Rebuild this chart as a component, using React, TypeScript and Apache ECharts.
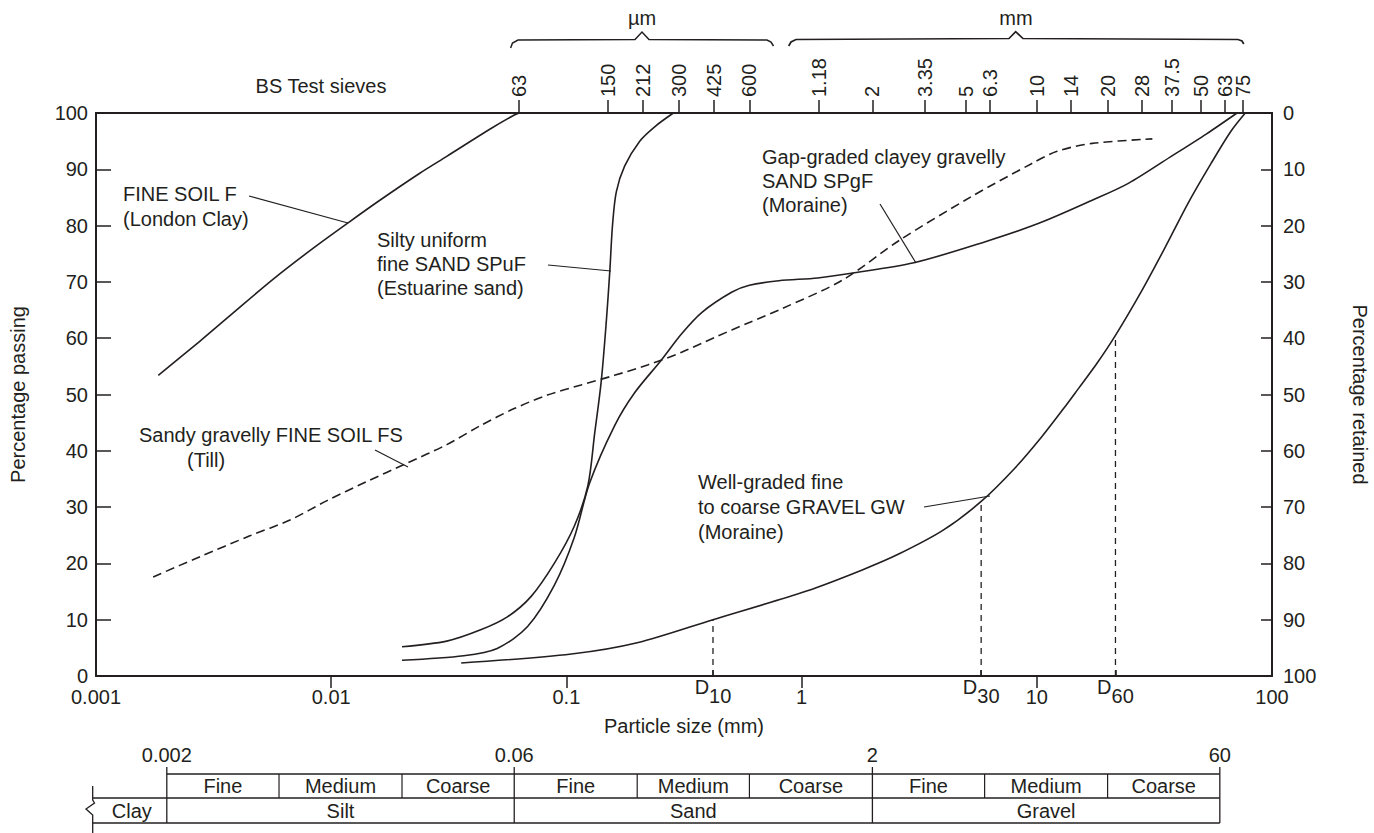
import React, { useEffect, useRef } from 'react';
import * as echarts from 'echarts';

// ---------------- data ----------------
const xTickLabels = ['0.001', '0.01', '0.1', '1', '10', '100'];
const xDecadeTicks = [0.01, 0.1, 1, 10];
const sieveSizes = [0.063, 0.15, 0.212, 0.3, 0.425, 0.6, 1.18, 2, 3.35, 5, 6.3, 10, 14, 20, 28, 37.5, 50, 63, 75];
const sieveLabels = ['63', '150', '212', '300', '425', '600', '1.18', '2', '3.35', '5', '6.3', '10', '14', '20', '28', '37.5', '50', '63', '75'];
const dSizes = [0.42, 5.8, 21.6];
const dNames = ['10', '30', '60'];
const dPassing = [10, 31, 60.5];

const fineSoilF = [[0.00184, 53.4], [0.00277, 59.5], [0.00383, 64.5], [0.00567, 70.5], [0.00839, 76], [0.0118, 80.5], [0.0161, 84.5], [0.0238, 89.3], [0.031, 92.3], [0.0476, 97.2], [0.0598, 99.6], [0.063, 100]];
const siltyUniformSand = [[0.02, 5.2], [0.031, 6.2], [0.0432, 8.2], [0.0561, 10.5], [0.0707, 14.1], [0.0888, 20], [0.108, 26.6], [0.1234, 33.8], [0.1318, 43], [0.1406, 52.3], [0.1477, 62.8], [0.153, 72], [0.157, 80], [0.163, 86], [0.177, 90.6], [0.205, 95], [0.238, 97.6], [0.285, 100]];
const gapGradedSand = [[0.02, 2.8], [0.0366, 3.6], [0.0508, 4.9], [0.0684, 8.8], [0.0888, 16.1], [0.108, 24.6], [0.1253, 34.2], [0.16, 44.4], [0.195, 50.3], [0.252, 56], [0.309, 60.8], [0.377, 64.6], [0.506, 68.2], [0.6, 69.4], [0.8, 70.2], [1.17, 70.7], [1.6, 71.5], [3.0, 73.4], [6.0, 77.1], [10.2, 80.4], [17.2, 84.5], [24.5, 87.5], [37, 92.2], [52.7, 96.3], [71, 100]];
const sandyGravellyFineSoil = [[0.00175, 17.6], [0.00277, 21.2], [0.00451, 24.9], [0.00668, 27.7], [0.00955, 31.1], [0.0141, 34.5], [0.021, 37.8], [0.031, 41.1], [0.0432, 44.5], [0.06, 47.5], [0.083, 49.9], [0.1155, 51.7], [0.16, 53.4], [0.223, 55.3], [0.309, 57.5], [0.43, 60.2], [0.6, 62.8], [0.83, 65.3], [1.49, 70.3], [2.61, 77.4], [5.25, 85.1], [9.5, 91], [12.2, 93.2], [17.2, 94.6], [31, 95.4]];
const wellGradedGravel = [[0.0357, 2.3], [0.105, 3.9], [0.2, 5.9], [0.42, 10], [1.05, 15.1], [1.8, 18.8], [2.6, 21.7], [4, 25.9], [5.8, 31], [8.1, 37], [10.5, 42.5], [13, 47.5], [15, 51], [18, 55.5], [21.6, 60.5], [28, 68.5], [35, 76], [44, 84], [55, 91], [67, 96.8], [77, 100]];

const classBounds = [0.002, 0.06, 2, 60];
const classBoundLabels = ['0.002', '0.06', '2', '60'];
const subBounds = [0.002, 0.006, 0.02, 0.06, 0.2, 0.6, 2, 6, 20, 60];
const subLabels = ['Fine', 'Medium', 'Coarse', 'Fine', 'Medium', 'Coarse', 'Fine', 'Medium', 'Coarse'];
const mainLabels = ['Silt', 'Sand', 'Gravel'];

// ---------------- style ----------------
const C = '#231f20';
const FF = '"Liberation Sans", Arial, Helvetica, sans-serif';
const FS = 20;

const annotations = [
  { lines: ['FINE SOIL F', '(London Clay)'], x: 123, y: 194, dy: 25, leader: [[249, 196], [348, 223]] },
  { lines: ['Silty uniform', 'fine SAND SPuF', '(Estuarine sand)'], x: 377, y: 240, dy: 24, leader: [[548, 265], [611, 271]] },
  { lines: ['Gap-graded clayey gravelly', 'SAND SPgF', '(Moraine)'], x: 762, y: 157, dy: 24, leader: [[880, 204], [916, 263]] },
  { lines: ['Sandy gravelly FINE SOIL FS'], x: 139, y: 435, dy: 25, leader: [[375, 450], [408, 467]] },
  { lines: ['(Till)'], x: 187, y: 460, dy: 25, leader: null },
  { lines: ['Well-graded fine', 'to coarse GRAVEL GW', '(Moraine)'], x: 698, y: 482, dy: 25, leader: [[924, 507], [990, 496]] },
];

function txt(text: string, x: number, y: number, align = 'left', size = FS) {
  return {
    type: 'text', x, y, silent: true,
    style: { text, fill: C, fontSize: size, fontFamily: FF, align, verticalAlign: 'middle' },
  };
}
function seg(x1: number, y1: number, x2: number, y2: number, w = 1.2) {
  return { type: 'line', silent: true, shape: { x1, y1, x2, y2 }, style: { stroke: C, lineWidth: w } };
}

function curve(name: string, data: number[][], dashed = false) {
  return {
    name, type: 'line', xAxisIndex: 0, yAxisIndex: 0, data,
    showSymbol: false, symbol: 'none', smooth: 0.3, silent: true,
    lineStyle: { color: C, width: 1.6, type: dashed ? [9, 5] : 'solid' },
  };
}

function sieveLabel(v: number) {
  const i = sieveSizes.findIndex((s) => Math.abs(Math.log10(s) - Math.log10(v)) < 1e-6);
  return i >= 0 ? sieveLabels[i] : '';
}
function dLabel(v: number) {
  const i = dSizes.findIndex((s) => Math.abs(Math.log10(s) - Math.log10(v)) < 1e-6);
  return i >= 0 ? `{D|D}{s|${dNames[i]}}` : '';
}
function decadeLabel(v: number) {
  const i = Math.round(Math.log10(v)) + 3;
  return xTickLabels[i] ?? '';
}

export default function App() {
  const ref = useRef<HTMLDivElement>(null);
  useEffect(() => {
    const chart = echarts.init(ref.current!, null, { renderer: 'svg' });
    const axisLine = { show: true, lineStyle: { color: C, width: 2 } };
    const tickStyle = { color: C, width: 1.5 };
    // split the sieve ticks over two identical top axes so that adjacent labels are never auto-hidden
    const sieveA = sieveSizes.filter((_, i) => i % 2 === 0);
    const sieveB = sieveSizes.filter((_, i) => i % 2 === 1);
    const topAxis = (vals: number[], rot: number) => ({
      type: 'log', logBase: 10, min: 0.001, max: 100, position: 'top',
      axisLine, splitLine: { show: false }, minorTick: { show: false },
      axisTick: { show: true, inside: false, length: 13, lineStyle: tickStyle, customValues: vals },
      axisLabel: { customValues: vals, rotate: rot, margin: 16, color: C, fontSize: FS, fontFamily: FF, formatter: sieveLabel, hideOverlap: false, showMinLabel: true, showMaxLabel: true },
    });
    const option: any = {
      animation: false,
      backgroundColor: '#ffffff',
      textStyle: { fontFamily: FF, color: C },
      grid: { left: 96, top: 113, width: 1176, height: 563, containLabel: false, outerBoundsMode: 'none' },
      xAxis: [
        {
          type: 'log', logBase: 10, min: 0.001, max: 100, position: 'bottom',
          axisLine, splitLine: { show: false }, minorTick: { show: false },
          axisTick: { show: true, inside: false, length: 12, lineStyle: tickStyle, customValues: xDecadeTicks },
          axisLabel: { color: C, fontSize: FS, fontFamily: FF, margin: 11, formatter: decadeLabel, hideOverlap: false, showMinLabel: true, showMaxLabel: true },
          name: 'Particle size (mm)', nameLocation: 'middle', nameGap: 40,
          nameTextStyle: { color: C, fontSize: FS, fontFamily: FF },
        },
        topAxis(sieveA, 90),
        {
          type: 'log', logBase: 10, min: 0.001, max: 100, position: 'bottom',
          axisLine: { show: false }, splitLine: { show: false }, minorTick: { show: false },
          axisTick: { show: true, inside: true, length: 6, lineStyle: tickStyle, customValues: dSizes },
          axisLabel: {
            customValues: dSizes, margin: 1, formatter: dLabel, hideOverlap: false, showMinLabel: true, showMaxLabel: true,
            rich: {
              D: { fontSize: FS, fontFamily: FF, color: C, padding: [0, 0, 9, 0] },
              s: { fontSize: FS, fontFamily: FF, color: C, padding: [9, 0, 0, 0] },
            },
          },
        },
        topAxis(sieveB, -90),
      ],
      yAxis: [
        {
          type: 'value', min: 0, max: 100, interval: 10, position: 'left',
          axisLine, splitLine: { show: false },
          axisTick: { show: true, inside: true, length: 15, lineStyle: tickStyle },
          axisLabel: { color: C, fontSize: FS, fontFamily: FF, margin: 8, showMinLabel: true, showMaxLabel: true },
          name: 'Percentage passing', nameLocation: 'middle', nameRotate: 90, nameGap: 68,
          nameTextStyle: { color: C, fontSize: FS, fontFamily: FF },
        },
        {
          type: 'value', min: 0, max: 100, interval: 10, position: 'right', inverse: true,
          axisLine, splitLine: { show: false },
          axisTick: { show: true, inside: true, length: 11, lineStyle: tickStyle },
          axisLabel: { color: C, fontSize: FS, fontFamily: FF, margin: 11, showMinLabel: true, showMaxLabel: true },
          name: 'Percentage retained', nameLocation: 'middle', nameRotate: -90, nameGap: 78,
          nameTextStyle: { color: C, fontSize: FS, fontFamily: FF },
        },
      ],
      series: [
        curve('FINE SOIL F', fineSoilF),
        curve('SPuF', siltyUniformSand),
        curve('SPgF', gapGradedSand),
        curve('FS', sandyGravellyFineSoil, true),
        curve('GW', wellGradedGravel),
        ...dSizes.map((d, i) => ({
          name: 'D' + dNames[i], type: 'line', xAxisIndex: 0, yAxisIndex: 0,
          data: [[d, 0], [d, dPassing[i]]], showSymbol: false, symbol: 'none', silent: true,
          lineStyle: { color: C, width: 1.3, type: [6, 5] },
        })),
      ],
    };
    chart.setOption(option);

    const px = (v: number) => chart.convertToPixel({ xAxisIndex: 0 }, v) as number;
    const g: any[] = [];
    // top braces and units
    g.push({ type: 'polyline', silent: true, shape: { points: [[510.6, 48], [512.5, 43], [518, 40], [635, 39.5], [642, 32], [649, 39.5], [767, 40], [771, 42], [773.5, 46]] }, style: { stroke: C, lineWidth: 1.5, fill: 'none' } });
    g.push({ type: 'polyline', silent: true, shape: { points: [[788.7, 46], [791, 42], [796, 39.5], [1009, 38.5], [1015.7, 31.7], [1023, 38.5], [1238, 39.5], [1242, 41], [1243.8, 44]] }, style: { stroke: C, lineWidth: 1.7, fill: 'none' } });
    g.push(txt('µm', 642, 18, 'center'));
    g.push(txt('mm', 1016, 18, 'center'));
    g.push(txt('BS Test sieves', 321, 86, 'center'));
    // annotations
    annotations.forEach((a) => {
      a.lines.forEach((l, i) => g.push(txt(l, a.x, a.y + i * a.dy)));
      if (a.leader) g.push(seg(a.leader[0][0], a.leader[0][1], a.leader[1][0], a.leader[1][1]));
    });
    // classification table
    const yLab = 755, yTickTop = 767, yTop = 774, yMid = 798, yBot = 823, xLeft = 92.7;
    const xr = px(60);
    g.push(seg(px(0.002), yTop, xr, yTop, 1.5));
    g.push(seg(xLeft, yMid, xr, yMid, 1.5));
    g.push(seg(xLeft, yBot, xr, yBot, 1.5));
    classBounds.forEach((b, i) => {
      g.push(seg(px(b), yTickTop, px(b), yBot, 1.3));
      g.push(txt(classBoundLabels[i], px(b), yLab, 'center'));
    });
    subBounds.forEach((b) => {
      if (classBounds.indexOf(b) < 0) g.push(seg(px(b), yTop, px(b), yMid, 1.2));
    });
    subLabels.forEach((l, i) => {
      g.push(txt(l, (px(subBounds[i]) + px(subBounds[i + 1])) / 2, 786, 'center'));
    });
    mainLabels.forEach((l, i) => {
      g.push(txt(l, (px(classBounds[i]) + px(classBounds[i + 1])) / 2, 810.5, 'center'));
    });
    g.push(txt('Clay', (xLeft + px(0.002)) / 2 + 2, 810.5, 'center'));
    g.push({ type: 'polyline', silent: true, shape: { points: [[xLeft, 786], [xLeft, 800], [94.5, 803], [86, 809], [xLeft, 815], [xLeft, 833]] }, style: { stroke: C, lineWidth: 1.3, fill: 'none' } });

    chart.setOption({ graphic: g });
    return () => chart.dispose();
  }, []);
  return <div ref={ref} style={{ position: 'absolute', left: 0, top: 0, width: 1374, height: 833, background: '#fff' }} />;
}
